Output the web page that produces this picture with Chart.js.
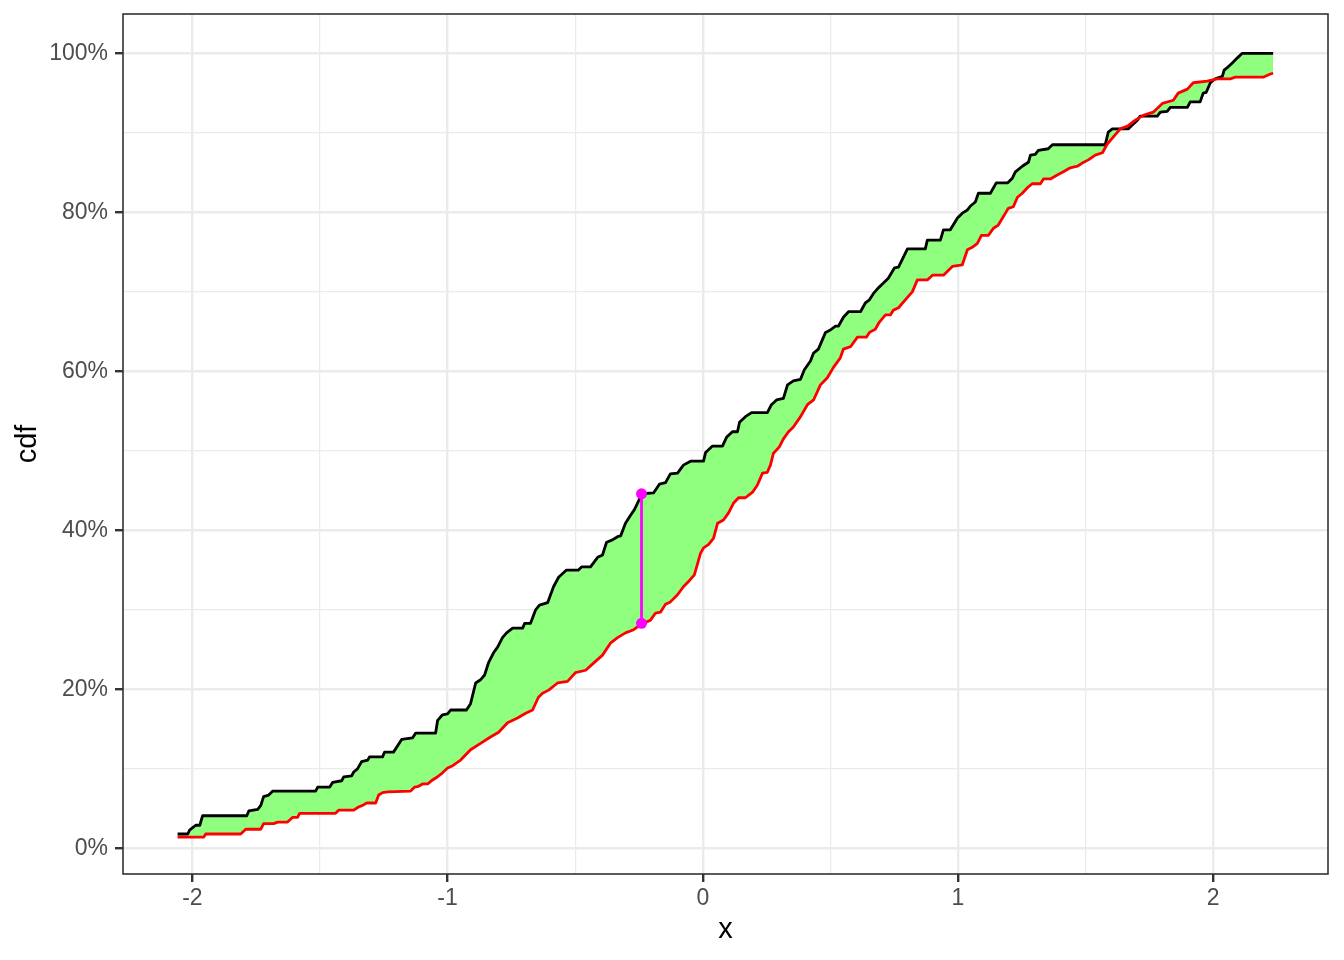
<!DOCTYPE html>
<html>
<head>
<meta charset="utf-8">
<script src="https://cdn.jsdelivr.net/npm/chart.js@4"></script>
<style>
html,body{margin:0;padding:0;background:#fff;}
canvas{display:block;}
</style>
</head>
<body>
<canvas id="c" width="1344" height="960"></canvas>
<script>
// ---- data ----
const blackX = [-2.058,-2.018,-2.011,-1.999,-1.987,-1.971,-1.960,-1.787,-1.779,-1.744,-1.732,-1.721,-1.701,-1.685,-1.517,-1.509,-1.462,-1.450,-1.415,-1.407,-1.376,-1.368,-1.353,-1.337,-1.313,-1.306,-1.255,-1.247,-1.212,-1.180,-1.137,-1.125,-1.047,-1.039,-1.020,-1.000,-0.988,-0.926,-0.910,-0.890,-0.871,-0.855,-0.839,-0.820,-0.804,-0.785,-0.769,-0.745,-0.706,-0.698,-0.675,-0.655,-0.640,-0.608,-0.585,-0.565,-0.534,-0.487,-0.475,-0.440,-0.412,-0.393,-0.377,-0.354,-0.334,-0.322,-0.303,-0.283,-0.268,-0.244,-0.240,-0.193,-0.170,-0.146,-0.127,-0.099,-0.076,-0.048,0.003,0.011,0.038,0.077,0.093,0.116,0.136,0.144,0.167,0.191,0.253,0.269,0.289,0.316,0.332,0.355,0.383,0.398,0.422,0.434,0.453,0.481,0.500,0.520,0.532,0.551,0.571,0.618,0.637,0.653,0.669,0.688,0.708,0.727,0.751,0.767,0.802,0.872,0.880,0.931,0.943,0.970,0.998,1.017,1.037,1.049,1.068,1.080,1.127,1.150,1.194,1.213,1.225,1.252,1.276,1.284,1.303,1.315,1.354,1.370,1.577,1.589,1.605,1.667,1.683,1.703,1.714,1.781,1.793,1.820,1.832,1.899,1.910,1.949,1.961,1.973,1.989,2.008,2.036,2.043,2.059,2.075,2.094,2.114,2.235];
const blackY = [1.8,1.8,2.3,2.6,2.9,2.9,4.1,4.1,4.7,4.9,5.4,6.5,6.7,7.2,7.2,7.7,7.7,8.3,8.5,9.0,9.1,9.6,10.0,10.9,11.1,11.5,11.5,12.1,12.1,13.7,13.9,14.5,14.5,16.1,16.8,16.9,17.4,17.4,18.2,20.8,21.2,21.8,23.4,24.6,25.3,26.5,27.1,27.7,27.7,28.3,28.3,30.0,30.6,30.9,32.9,34.1,35.0,35.0,35.4,35.4,36.6,36.9,38.5,38.8,39.2,39.3,40.9,41.9,42.6,44.2,44.6,44.7,45.8,46.0,47.1,47.2,48.2,48.7,48.7,49.8,50.6,50.6,51.7,52.4,52.4,53.6,54.3,54.8,54.8,55.8,56.4,56.6,58.3,58.8,59.0,60.2,61.3,62.3,62.8,64.9,65.2,65.7,65.7,66.8,67.5,67.5,68.6,69.0,69.8,70.5,71.1,71.7,73.0,73.1,75.4,75.4,76.5,76.5,77.8,77.8,79.3,79.9,80.3,80.8,81.3,82.4,82.4,83.7,83.7,84.3,85.1,85.8,86.3,87.2,87.3,87.8,88.0,88.5,88.5,90.1,90.5,90.5,91.0,91.6,92.1,92.1,92.6,92.7,93.2,93.2,93.9,93.9,95.0,95.1,96.3,96.8,97.1,97.9,98.3,98.8,99.4,100,100];

const redX = [-2.058,-1.956,-1.948,-1.811,-1.791,-1.732,-1.721,-1.682,-1.666,-1.627,-1.607,-1.588,-1.580,-1.439,-1.427,-1.368,-1.349,-1.333,-1.317,-1.282,-1.270,-1.255,-1.235,-1.145,-1.129,-1.114,-1.098,-1.078,-1.059,-1.039,-1.020,-1.000,-0.980,-0.949,-0.910,-0.871,-0.832,-0.800,-0.765,-0.726,-0.694,-0.667,-0.644,-0.628,-0.604,-0.569,-0.530,-0.499,-0.459,-0.428,-0.393,-0.362,-0.334,-0.303,-0.271,-0.240,-0.205,-0.185,-0.166,-0.146,-0.127,-0.099,-0.076,-0.052,-0.033,-0.009,0.003,0.022,0.042,0.058,0.081,0.101,0.120,0.140,0.167,0.195,0.214,0.234,0.253,0.265,0.277,0.300,0.316,0.336,0.355,0.383,0.410,0.434,0.461,0.488,0.512,0.539,0.551,0.579,0.606,0.641,0.653,0.676,0.692,0.716,0.735,0.747,0.767,0.802,0.821,0.841,0.880,0.900,0.943,0.962,0.978,1.017,1.037,1.056,1.076,1.092,1.119,1.139,1.158,1.186,1.197,1.217,1.233,1.252,1.272,1.291,1.323,1.335,1.362,1.389,1.413,1.440,1.468,1.487,1.511,1.538,1.566,1.585,1.609,1.636,1.667,1.695,1.726,1.765,1.801,1.844,1.863,1.899,1.922,1.977,2.016,2.067,2.087,2.196,2.224,2.235];
const redY = [1.4,1.4,1.8,1.8,2.4,2.4,3.1,3.1,3.3,3.3,3.9,3.9,4.4,4.4,4.8,4.8,5.2,5.4,5.7,5.7,6.7,7.0,7.1,7.2,7.7,7.8,8.1,8.1,8.6,9.0,9.5,10.1,10.4,11.1,12.4,13.2,14.0,14.6,15.8,16.4,17.0,17.4,19.0,19.5,19.9,20.8,21.0,22.1,22.4,23.3,24.3,25.8,26.5,27.1,27.5,28.2,28.7,29.6,29.7,30.7,31.0,31.9,32.9,33.7,34.4,37.1,37.8,38.2,39.0,40.9,41.3,42.2,43.4,44.1,44.1,44.8,45.7,47.2,47.3,48.2,49.7,50.5,51.5,52.4,53.0,54.3,55.8,56.4,58.3,59.2,60.5,61.7,62.8,63.1,64.3,64.3,64.9,65.3,66.2,67.1,67.1,67.7,68.0,69.3,70.0,71.5,71.5,72.1,72.1,72.7,73.2,73.4,75.3,75.6,76.1,77.1,77.1,78.0,78.4,79.9,80.5,80.7,81.9,82.4,83.1,83.6,83.6,84.2,84.2,84.7,85.1,85.6,85.8,86.2,86.6,87.2,87.5,88.6,89.5,90.5,90.9,91.6,92.2,92.6,93.7,94.1,95.0,95.5,96.3,96.5,96.8,96.8,97.0,97.0,97.4,97.5];

const gapX = [-0.240, -0.240];
const gapY = [28.3, 44.6];

const xMajorTicks = [-2, -1, 0, 1, 2];
const xMinorTicks = [-1.5, -0.5, 0.5, 1.5];
const yMajorTicks = [0, 20, 40, 60, 80, 100];
const yMinorTicks = [10, 30, 50, 70, 90];
const xRange = [-2.272, 2.450];
const yRange = [-3.23, 104.95];
const xTitle = 'x';
const yTitle = 'cdf';

// ---- build ----
const pts = (xs, ys) => xs.map((x, i) => ({x: x, y: ys[i]}));
const isMajor = (list, v) => list.some(t => Math.abs(t - v) < 1e-9);

const borderPlugin = {
  id: 'panelBorder',
  afterDraw(chart) {
    const a = chart.chartArea, ctx = chart.ctx;
    ctx.save();
    ctx.strokeStyle = '#333333';
    ctx.lineWidth = 1.6;
    ctx.strokeRect(a.left, a.top, a.right - a.left, a.bottom - a.top);
    ctx.restore();
  }
};

const tickFont = {family: '"Liberation Sans", Arial, sans-serif', size: 23};
const titleFont = {family: '"Liberation Sans", Arial, sans-serif', size: 29, lineHeight: 1};

new Chart(document.getElementById('c'), {
  type: 'line',
  data: {
    datasets: [
      {
        label: 'gap',
        data: pts(gapX, gapY),
        borderColor: '#FF00FF',
        backgroundColor: '#FF00FF',
        borderWidth: 2.8,
        pointRadius: 5.5,
        pointBorderWidth: 0,
        pointBackgroundColor: '#FF00FF',
        fill: false
      },
      {
        label: 'red',
        data: pts(redX, redY),
        borderColor: '#FF0000',
        borderWidth: 2.8,
        pointRadius: 0,
        fill: false
      },
      {
        label: 'black',
        data: pts(blackX, blackY),
        borderColor: '#000000',
        borderWidth: 2.8,
        pointRadius: 0,
        backgroundColor: 'rgb(144,255,128)',
        fill: {target: 1}
      }
    ]
  },
  options: {
    responsive: false,
    animation: false,
    devicePixelRatio: 1,
    parsing: true,
    layout: {padding: {top: 14, right: 16, left: 0, bottom: 0}},
    elements: {line: {tension: 0, borderCapStyle: 'butt', borderJoinStyle: 'round'}},
    plugins: {
      legend: {display: false},
      tooltip: {enabled: false},
      filler: {drawTime: 'beforeDatasetsDraw', propagate: false}
    },
    scales: {
      x: {
        type: 'linear',
        min: xRange[0],
        max: xRange[1],
        afterBuildTicks: s => { s.ticks = xMajorTicks.concat(xMinorTicks).sort((a,b)=>a-b).map(v => ({value: v})); },
        afterFit: s => { s.height = 86; s.paddingLeft = 0; s.paddingRight = 0; },
        ticks: {
          autoSkip: false, maxRotation: 0, padding: 3, color: '#4D4D4D', font: tickFont,
          callback: v => isMajor(xMajorTicks, v) ? String(v) : ''
        },
        grid: {
          color: '#EBEBEB',
          lineWidth: c => isMajor(xMajorTicks, c.tick.value) ? 2.4 : 1.2,
          tickColor: c => isMajor(xMajorTicks, c.tick.value) ? '#333333' : 'rgba(0,0,0,0)',
          tickWidth: 2.4,
          tickLength: 8
        },
        border: {display: false},
        title: {display: true, text: xTitle, color: '#000000', font: titleFont, padding: {top: 0, bottom: 15.5}}
      },
      y: {
        type: 'linear',
        min: yRange[0],
        max: yRange[1],
        afterBuildTicks: s => { s.ticks = yMajorTicks.concat(yMinorTicks).sort((a,b)=>a-b).map(v => ({value: v})); },
        afterFit: s => { s.width = 123; s.paddingTop = 0; s.paddingBottom = 0; },
        ticks: {
          autoSkip: false, padding: 7, color: '#4D4D4D', font: tickFont,
          callback: v => isMajor(yMajorTicks, v) ? v + '%' : ''
        },
        grid: {
          color: '#EBEBEB',
          lineWidth: c => isMajor(yMajorTicks, c.tick.value) ? 2.4 : 1.2,
          tickColor: c => isMajor(yMajorTicks, c.tick.value) ? '#333333' : 'rgba(0,0,0,0)',
          tickWidth: 2.4,
          tickLength: 8
        },
        border: {display: false},
        title: {display: true, text: yTitle, color: '#000000', font: titleFont, padding: {top: 13.5, bottom: 0}}
      }
    }
  },
  plugins: [borderPlugin]
});
</script>
</body>
</html>
